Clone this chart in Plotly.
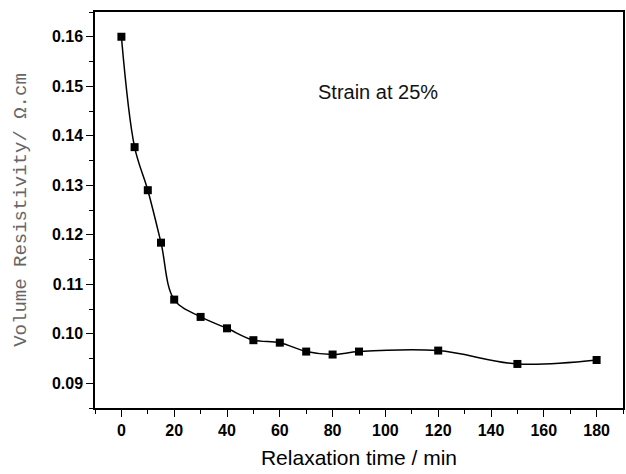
import plotly.graph_objects as go

time_min = [0, 5, 10, 15, 20, 30, 40, 50, 60, 70, 80, 90, 120, 150, 180]
resistivity = [0.1600, 0.1377, 0.1290, 0.1184, 0.1069, 0.1034, 0.1011, 0.0987,
               0.0982, 0.0964, 0.0958, 0.0964, 0.0966, 0.0939, 0.0947]

x_ticks = [0, 20, 40, 60, 80, 100, 120, 140, 160, 180]
y_ticks = [0.09, 0.10, 0.11, 0.12, 0.13, 0.14, 0.15, 0.16]

fig = go.Figure()
fig.add_trace(go.Scatter(
    x=time_min, y=resistivity, mode="lines",
    line=dict(color="black", width=1.5, shape="spline", smoothing=1.0),
    showlegend=False, hoverinfo="skip"))
fig.add_trace(go.Scatter(
    x=time_min, y=resistivity, mode="markers",
    marker=dict(symbol="square", size=8, color="black"),
    showlegend=False))

fig.add_annotation(x=0.418, y=0.798, xref="paper", yref="paper",
                   text="Strain at 25%", showarrow=False,
                   xanchor="left", yanchor="middle",
                   font=dict(family="Arial, Liberation Sans", size=20, color="#111"))

fig.update_xaxes(
    range=[-10, 190], tickvals=x_ticks, ticktext=[str(v) for v in x_ticks],
    ticks="outside", ticklen=7, tickwidth=1.3, tickcolor="black",
    minor=dict(dtick=10, tick0=0, ticks="outside", ticklen=4, tickwidth=1.2, tickcolor="black"),
    showline=True, linecolor="black", linewidth=1.5, mirror=True,
    showgrid=False, zeroline=False,
    tickfont=dict(family="Arial, Liberation Sans", size=16, color="black", weight="bold"),
    title=dict(text="Relaxation time / min",
               font=dict(family="Arial, Liberation Sans", size=21, color="black"),
               standoff=12))
fig.update_yaxes(
    range=[0.085, 0.165], tickvals=y_ticks, ticktext=["%.2f" % v for v in y_ticks],
    ticks="outside", ticklen=7, tickwidth=1.3, tickcolor="black",
    minor=dict(dtick=0.005, tick0=0.085, ticks="outside", ticklen=4, tickwidth=1.2, tickcolor="black"),
    showline=True, linecolor="black", linewidth=1.5, mirror=True,
    showgrid=False, zeroline=False,
    tickfont=dict(family="Arial, Liberation Sans", size=16, color="black", weight="bold"),
    title=dict(text="Volume Resistivity/ Ω.cm",
               font=dict(family="Liberation Mono, DejaVu Sans Mono", size=19, color="#666"),
               standoff=20))

fig.update_layout(
    width=626, height=474,
    margin=dict(l=95, r=1, t=12, b=66),
    paper_bgcolor="white", plot_bgcolor="white")

fig.write_html("out.html")
